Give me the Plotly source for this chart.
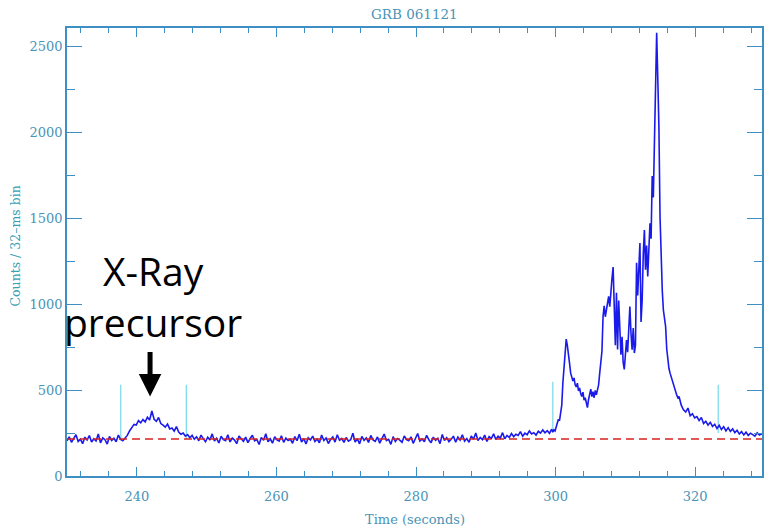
import numpy as np
import plotly.graph_objects as go

# Light curve of GRB 061121, counts per 32-ms bin.
# Quiet part sampled every 0.32 s, burst every 0.16 s, tail every 0.32 s.
pre_start, pre_step = 230.0, 0.32
pre_counts = [
    # 230.00 - 237.68
    205, 228, 196, 219, 240, 201, 214, 188, 226, 209, 235, 198, 217, 204, 245, 193, 222, 211, 186, 230, 207, 219, 199, 238, 212,
    # 238.00 - 245.68 (precursor)
    205, 222, 236, 262, 281, 300, 296, 322, 309, 328, 315, 342, 326, 378, 330, 318, 340, 305, 296, 284, 302, 274, 279, 261, 287,
    # 246.00 - 253.68
    256, 243, 250, 232, 241, 222, 236, 214, 228, 205, 238, 217, 199, 226, 210, 245, 203, 219, 192, 231, 212, 206, 240, 198, 221,
    # 254.00 - 261.68
    209, 188, 232, 215, 201, 226, 194, 218, 237, 205, 213, 183, 224, 208, 246, 199, 216, 191, 228, 210, 203, 234, 196, 220, 207,
    # 262.00 - 269.68
    214, 190, 229, 205, 243, 198, 217, 186, 222, 209, 232, 200, 215, 193, 238, 206, 221, 189, 212, 227, 197, 240, 208, 218, 195,
    # 270.00 - 277.68
    224, 203, 211, 249, 198, 216, 187, 230, 207, 221, 195, 236, 210, 202, 227, 191, 219, 244, 206, 213, 184, 229, 201, 218, 209,
    # 278.00 - 285.68
    196, 233, 212, 205, 228, 190, 221, 247, 203, 215, 199, 237, 211, 194, 226, 208, 219, 188, 241, 206, 223, 200, 214, 232, 197,
    # 286.00 - 293.68
    226, 209, 240, 203, 218, 196, 233, 214, 250, 207, 224, 211, 238, 201, 229, 218, 245, 212, 231, 220, 252, 216, 236, 224, 247,
    # 294.00 - 299.12
    229, 243, 236, 258, 231, 249, 240, 262, 244, 252, 238, 260, 249, 268, 251, 263, 248,
]

burst_start, burst_step = 299.28, 0.16
burst_counts = [
    # 299.28 - 302.96
    258, 272, 255, 268, 262, 285, 298, 330, 322, 365, 410, 540, 650, 745, 796, 760, 690, 655, 598, 580, 552, 570, 530, 518,
    # 303.12 - 306.80
    540, 495, 512, 478, 462, 488, 441, 455, 418, 398, 445, 470, 505, 462, 490, 455, 498, 472, 500, 530, 598, 660, 725, 930,
    # 306.96 - 310.64
    990, 926, 960, 1010, 1045, 985, 1100, 1150, 1215, 960, 760, 1065, 735, 1020, 880, 705, 810, 660, 620, 700, 790, 720, 880, 985,
    # 310.80 - 314.48
    830, 735, 860, 715, 760, 1240, 1050, 1180, 1355, 895, 1020, 1290, 1430, 1200, 1340, 1160, 1390, 1470, 1380, 1745, 1620, 2010, 2170, 2577,
    # 314.64 - 318.00
    2310, 2030, 1510, 1250, 1080, 965, 900, 870, 740, 660, 625, 598, 575, 552, 540, 505, 482, 470, 455, 462, 438, 412,
]

tail_start, tail_step = 318.32, 0.32
tail_counts = [
    # 318.32 - 325.68
    385, 372, 395, 350, 362, 338, 346, 322, 340, 305, 318, 296, 312, 288, 301, 276, 295, 270, 287, 262, 281, 259, 274, 252,
    # 326.00 - 329.84
    266, 244, 258, 239, 255, 236, 249, 242, 232, 251, 238, 246, 235,
]

times = np.concatenate([
    pre_start + pre_step * np.arange(len(pre_counts)),
    burst_start + burst_step * np.arange(len(burst_counts)),
    tail_start + tail_step * np.arange(len(tail_counts)),
])
counts = pre_counts + burst_counts + tail_counts

# Background level (dashed) and the interval markers
background = 215
marker_t = [237.7, 247.1, 299.6, 323.3]
marker_lo = [212, 215, 262, 250]
marker_hi = [530, 530, 548, 530]

x_range = [230, 329.57]
y_range = [0, 2605]

axis_col = "#3f8fc4"
label_col = "#4a93b5"
title_col = "#3aa0b4"
tick_font = dict(family="DejaVu Serif", size=13, color=label_col)

fig = go.Figure()

fig.add_trace(go.Scatter(
    x=times, y=counts, mode="lines",
    line=dict(color="#1a1aea", width=1.6),
    showlegend=False, hoverinfo="skip",
))

fig.add_trace(go.Scatter(
    x=x_range, y=[background, background], mode="lines",
    line=dict(color="#d8231f", width=1.6, dash="8px,5px"),
    showlegend=False, hoverinfo="skip",
))

for xm, lo, hi in zip(marker_t, marker_lo, marker_hi):
    fig.add_shape(type="line", x0=xm, x1=xm, y0=lo, y1=hi,
                  line=dict(color="#7fdcec", width=1.3), layer="below")

fig.update_xaxes(
    range=x_range, showline=True, linecolor=axis_col, linewidth=1.6,
    mirror="ticks", ticks="inside", ticklen=9, tickwidth=1.4, tickcolor=axis_col,
    tick0=240, dtick=20, showgrid=False, zeroline=False, ticklabelstandoff=8,
    minor=dict(ticks="inside", ticklen=5, tickwidth=1.2, tickcolor=axis_col, dtick=4, tick0=240, showgrid=False),
    tickfont=tick_font,
)
fig.update_yaxes(
    range=y_range, showline=True, linecolor=axis_col, linewidth=1.6,
    mirror="ticks", ticks="inside", ticklen=15, tickwidth=1.4, tickcolor=axis_col,
    tick0=0, dtick=500, showgrid=False, zeroline=False,
    minor=dict(ticks="inside", ticklen=8, tickwidth=1.2, tickcolor=axis_col, dtick=250, showgrid=False),
    tickfont=tick_font,
)

fig.update_layout(
    width=764, height=529,
    margin=dict(l=67, r=0, t=28, b=53),
    paper_bgcolor="white", plot_bgcolor="white",
    annotations=[
        dict(text="GRB 061121", xref="paper", yref="paper", x=0.5, y=1, yanchor="bottom",
             yshift=4, showarrow=False, font=dict(family="DejaVu Serif", size=13.5, color=label_col)),
        dict(text="Time (seconds)", xref="paper", yref="paper", x=0.5, y=0, yanchor="top",
             yshift=-34, showarrow=False, font=dict(family="DejaVu Serif", size=13, color=label_col)),
        dict(text="Counts / 32\u2013ms bin", xref="paper", yref="paper", x=0, y=0.5, xanchor="right",
             xshift=-43, yshift=6, textangle=-90, showarrow=False,
             font=dict(family="DejaVu Serif", size=12.5, color=title_col)),
        dict(text="X-Ray<br>precursor", x=241.9, y=730, xref="x", yref="y", yanchor="bottom",
             xshift=3, showarrow=False, align="center",
             font=dict(family="Open Sans", size=39, color="black")),
        dict(text="", x=241.9, y=462, xref="x", yref="y", showarrow=True,
             ax=0, ay=-46, arrowhead=2, arrowsize=0.9, arrowwidth=5, arrowcolor="black"),
    ],
)

fig.write_html("out.html")
